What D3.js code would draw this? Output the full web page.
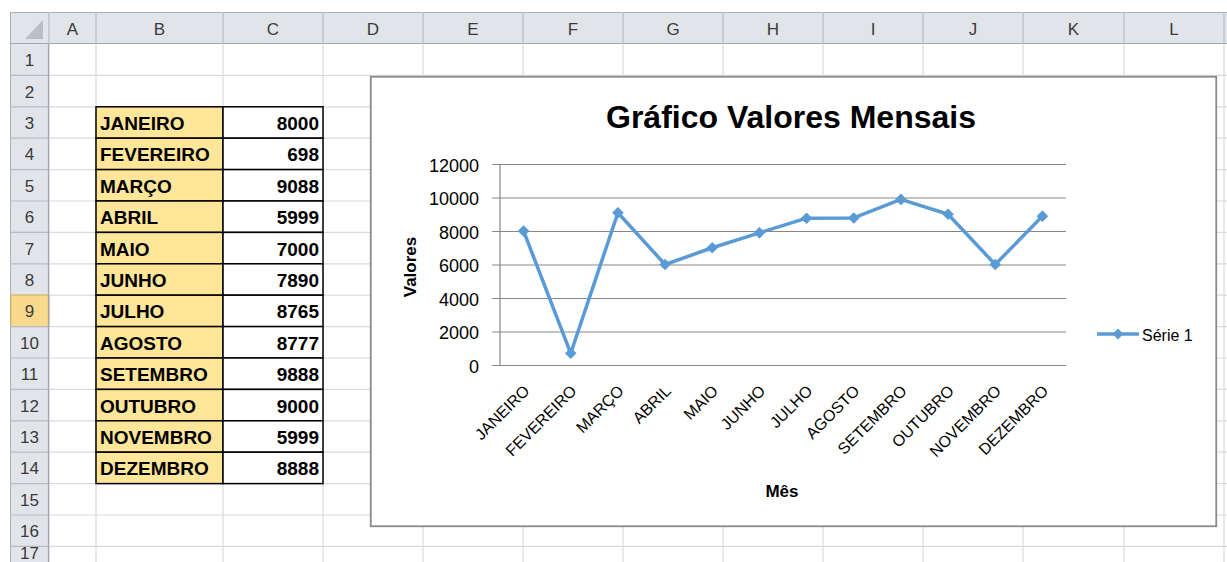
<!DOCTYPE html>
<html>
<head>
<meta charset="utf-8">
<script src="https://cdn.jsdelivr.net/npm/d3@7"></script>
<style>
  html, body { margin: 0; padding: 0; background: #ffffff; }
  svg { display: block; font-family: "Liberation Sans", Arial, sans-serif; }
</style>
</head>
<body>
<svg id="c" width="1227" height="562"></svg>
<script>
// ---- data ----
const months = ["JANEIRO","FEVEREIRO","MARÇO","ABRIL","MAIO","JUNHO","JULHO","AGOSTO","SETEMBRO","OUTUBRO","NOVEMBRO","DEZEMBRO"];
const values = [8000, 698, 9088, 5999, 7000, 7890, 8765, 8777, 9888, 9000, 5999, 8888];
const yTicks = [0, 2000, 4000, 6000, 8000, 10000, 12000];
const columnLetters = ["A","B","C","D","E","F","G","H","I","J","K","L"];
const rowNumbers = [1,2,3,4,5,6,7,8,9,10,11,12,13,14,15,16,17];
const seriesName = "Série 1";
const chartTitle = "Gráfico Valores Mensais";
const xTitle = "Mês";
const yTitle = "Valores";

// ---- spreadsheet layout ----
const svg = d3.select("#c");
const colEdges = [49, 96, 223, 323, 423, 523, 623, 723, 823, 923, 1023, 1124, 1224];
const headerTop = 12, headerBottom = 44, rowH = 31.4, rowHeadLeft = 10;
const rowTop = i => headerBottom + (i - 1) * rowH;
const selectedRow = 9;

// grid lines
const grid = svg.append("g");
colEdges.forEach(x => grid.append("line").attr("x1", x).attr("x2", x).attr("y1", headerBottom).attr("y2", 562)
  .attr("stroke", "#dadada").attr("stroke-width", 1.2));
rowNumbers.forEach(r => grid.append("line").attr("x1", colEdges[0]).attr("x2", 1227).attr("y1", rowTop(r) + rowH).attr("y2", rowTop(r) + rowH)
  .attr("stroke", "#dadada").attr("stroke-width", 1.2));

// column headers
const hdr = svg.append("g");
hdr.append("rect").attr("x", rowHeadLeft).attr("y", headerTop).attr("width", 1227 - rowHeadLeft).attr("height", headerBottom - headerTop).attr("fill", "#e1e5ea");
hdr.append("line").attr("x1", rowHeadLeft).attr("x2", 1227).attr("y1", headerTop + 0.5).attr("y2", headerTop + 0.5).attr("stroke", "#a9b0b8");
hdr.append("line").attr("x1", rowHeadLeft).attr("x2", 1227).attr("y1", headerBottom - 0.5).attr("y2", headerBottom - 0.5).attr("stroke", "#9ea7b1").attr("stroke-width", 1.2);
columnLetters.forEach((c, i) => {
  const x0 = colEdges[i], x1 = colEdges[i + 1];
  hdr.append("line").attr("x1", x1).attr("x2", x1).attr("y1", headerTop).attr("y2", headerBottom).attr("stroke", "#b4bcc6").attr("stroke-width", 1.2);
  hdr.append("text").attr("x", (x0 + x1) / 2).attr("y", (headerTop + headerBottom) / 2 + 1)
    .attr("text-anchor", "middle").attr("dominant-baseline", "central")
    .attr("font-size", 17).attr("fill", "#3a3a3a").text(c);
});
hdr.append("line").attr("x1", colEdges[0]).attr("x2", colEdges[0]).attr("y1", headerTop).attr("y2", headerBottom).attr("stroke", "#b4bcc6").attr("stroke-width", 1.2);
// corner triangle
hdr.append("path").attr("d", `M43,20 L43,39 L25,39 Z`).attr("fill", "#b9bec5");

// row headers
const rh = svg.append("g");
rh.append("rect").attr("x", rowHeadLeft).attr("y", headerBottom).attr("width", colEdges[0] - rowHeadLeft).attr("height", 562 - headerBottom).attr("fill", "#e1e5ea");
rh.append("line").attr("x1", rowHeadLeft + 0.5).attr("x2", rowHeadLeft + 0.5).attr("y1", headerTop).attr("y2", 562).attr("stroke", "#a9b0b8");
rowNumbers.forEach(r => {
  const y0 = rowTop(r);
  if (r === selectedRow) {
    rh.append("rect").attr("x", rowHeadLeft + 1).attr("y", y0).attr("width", colEdges[0] - rowHeadLeft - 1).attr("height", rowH)
      .attr("fill", "#f9d98c").attr("stroke", "#e2b759").attr("stroke-width", 1);
  }
  rh.append("line").attr("x1", rowHeadLeft).attr("x2", colEdges[0]).attr("y1", y0 + rowH).attr("y2", y0 + rowH).attr("stroke", "#b4bcc6").attr("stroke-width", 1.2);
  rh.append("text").attr("x", (rowHeadLeft + colEdges[0]) / 2).attr("y", Math.min(y0 + rowH / 2 + 1, 553))
    .attr("text-anchor", "middle").attr("dominant-baseline", "central")
    .attr("font-size", 17).attr("fill", "#3a3a3a").text(r);
});
rh.append("line").attr("x1", colEdges[0] - 0.5).attr("x2", colEdges[0] - 0.5).attr("y1", headerBottom).attr("y2", 562).attr("stroke", "#9ea7b1").attr("stroke-width", 1.2);

// data table B3:C14
const tbl = svg.append("g");
months.forEach((m, i) => {
  const y0 = rowTop(i + 3);
  tbl.append("rect").attr("x", colEdges[1]).attr("y", y0).attr("width", colEdges[2] - colEdges[1]).attr("height", rowH)
    .attr("fill", "#ffe699").attr("stroke", "#000").attr("stroke-width", 1.5);
  tbl.append("rect").attr("x", colEdges[2]).attr("y", y0).attr("width", colEdges[3] - colEdges[2]).attr("height", rowH)
    .attr("fill", "#ffffff").attr("stroke", "#000").attr("stroke-width", 1.5);
  tbl.append("text").attr("x", colEdges[1] + 4).attr("y", y0 + rowH / 2 + 1).attr("dominant-baseline", "central")
    .attr("font-size", 19).attr("font-weight", "bold").attr("fill", "#000").text(m);
  tbl.append("text").attr("x", colEdges[3] - 4).attr("y", y0 + rowH / 2 + 1).attr("dominant-baseline", "central")
    .attr("text-anchor", "end").attr("font-size", 19).attr("font-weight", "bold").attr("fill", "#000").text(values[i]);
});

// ---- chart ----
const box = { x: 370, y: 76, w: 847, h: 451 };
const ch = svg.append("g");
ch.append("rect").attr("x", box.x + 0.75).attr("y", box.y + 0.75).attr("width", box.w - 1.5).attr("height", box.h - 1.5)
  .attr("fill", "#ffffff").attr("stroke", "#8a8a8a").attr("stroke-width", 1.8);

ch.append("text").attr("x", 791).attr("y", 128).attr("text-anchor", "middle")
  .attr("font-size", 32).attr("font-weight", "bold").attr("fill", "#000").text(chartTitle);

const plot = { left: 500, right: 1066, top: 164, bottom: 365 };
const x = d3.scaleBand().domain(months).range([plot.left, plot.right]);
const y = d3.scaleLinear().domain([0, 12000]).range([plot.bottom, plot.top]);

const yAxis = ch.append("g").attr("transform", `translate(${plot.left},0)`)
  .call(d3.axisLeft(y).tickValues(yTicks).tickSize(-(plot.right - plot.left)).tickPadding(21).tickFormat(d3.format("d")));
yAxis.select(".domain").remove();
yAxis.selectAll(".tick line").attr("x1", -8).attr("stroke", "#878787").attr("stroke-width", 1.2);
yAxis.selectAll(".tick text").attr("font-size", 18).attr("font-family", "Liberation Sans, Arial, sans-serif").attr("fill", "#000").attr("dy", "0.36em").attr("y", 1);
ch.append("line").attr("x1", plot.left).attr("x2", plot.left).attr("y1", plot.top).attr("y2", plot.bottom + 0.5)
  .attr("stroke", "#878787").attr("stroke-width", 1.2);

const xAxis = ch.append("g").attr("transform", `translate(0,${plot.bottom})`)
  .call(d3.axisBottom(x).tickSize(0).tickFormat(d => d));
xAxis.select(".domain").remove();
xAxis.selectAll(".tick text")
  .attr("font-size", 16).attr("font-family", "Liberation Sans, Arial, sans-serif").attr("fill", "#000")
  .attr("text-anchor", "end").attr("dominant-baseline", "central").attr("dy", null).attr("y", null)
  .attr("transform", "translate(3,23) rotate(-45)");

ch.append("text").attr("transform", "translate(410,267) rotate(-90)").attr("text-anchor", "middle").attr("dominant-baseline", "central")
  .attr("font-size", 17).attr("font-weight", "bold").attr("fill", "#000").text(yTitle);
ch.append("text").attr("x", 782).attr("y", 491).attr("text-anchor", "middle").attr("dominant-baseline", "central")
  .attr("font-size", 17).attr("font-weight", "bold").attr("fill", "#000").text(xTitle);

const lineColor = "#5b9bd5";
const cx = d => x(d) + x.bandwidth() / 2;
const line = d3.line().x((d, i) => cx(months[i])).y(d => y(d));
ch.append("path").datum(values).attr("d", line).attr("fill", "none").attr("stroke", lineColor).attr("stroke-width", 3.5).attr("stroke-linejoin", "round");
const diamond = r => `M0,${-r}L${r},0L0,${r}L${-r},0Z`;
ch.selectAll(".mk").data(values).join("path").attr("class", "mk")
  .attr("transform", (d, i) => `translate(${cx(months[i])},${y(d)})`).attr("d", diamond(5.8)).attr("fill", lineColor);

// legend
const lg = ch.append("g").attr("transform", "translate(1097,334)");
lg.append("line").attr("x1", 0).attr("x2", 42).attr("y1", 0).attr("y2", 0).attr("stroke", lineColor).attr("stroke-width", 3.5);
lg.append("path").attr("transform", "translate(21,0)").attr("d", diamond(5.5)).attr("fill", lineColor);
lg.append("text").attr("x", 45).attr("y", 1).attr("dominant-baseline", "central").attr("font-size", 16).attr("fill", "#000").text(seriesName);
</script>
</body>
</html>
